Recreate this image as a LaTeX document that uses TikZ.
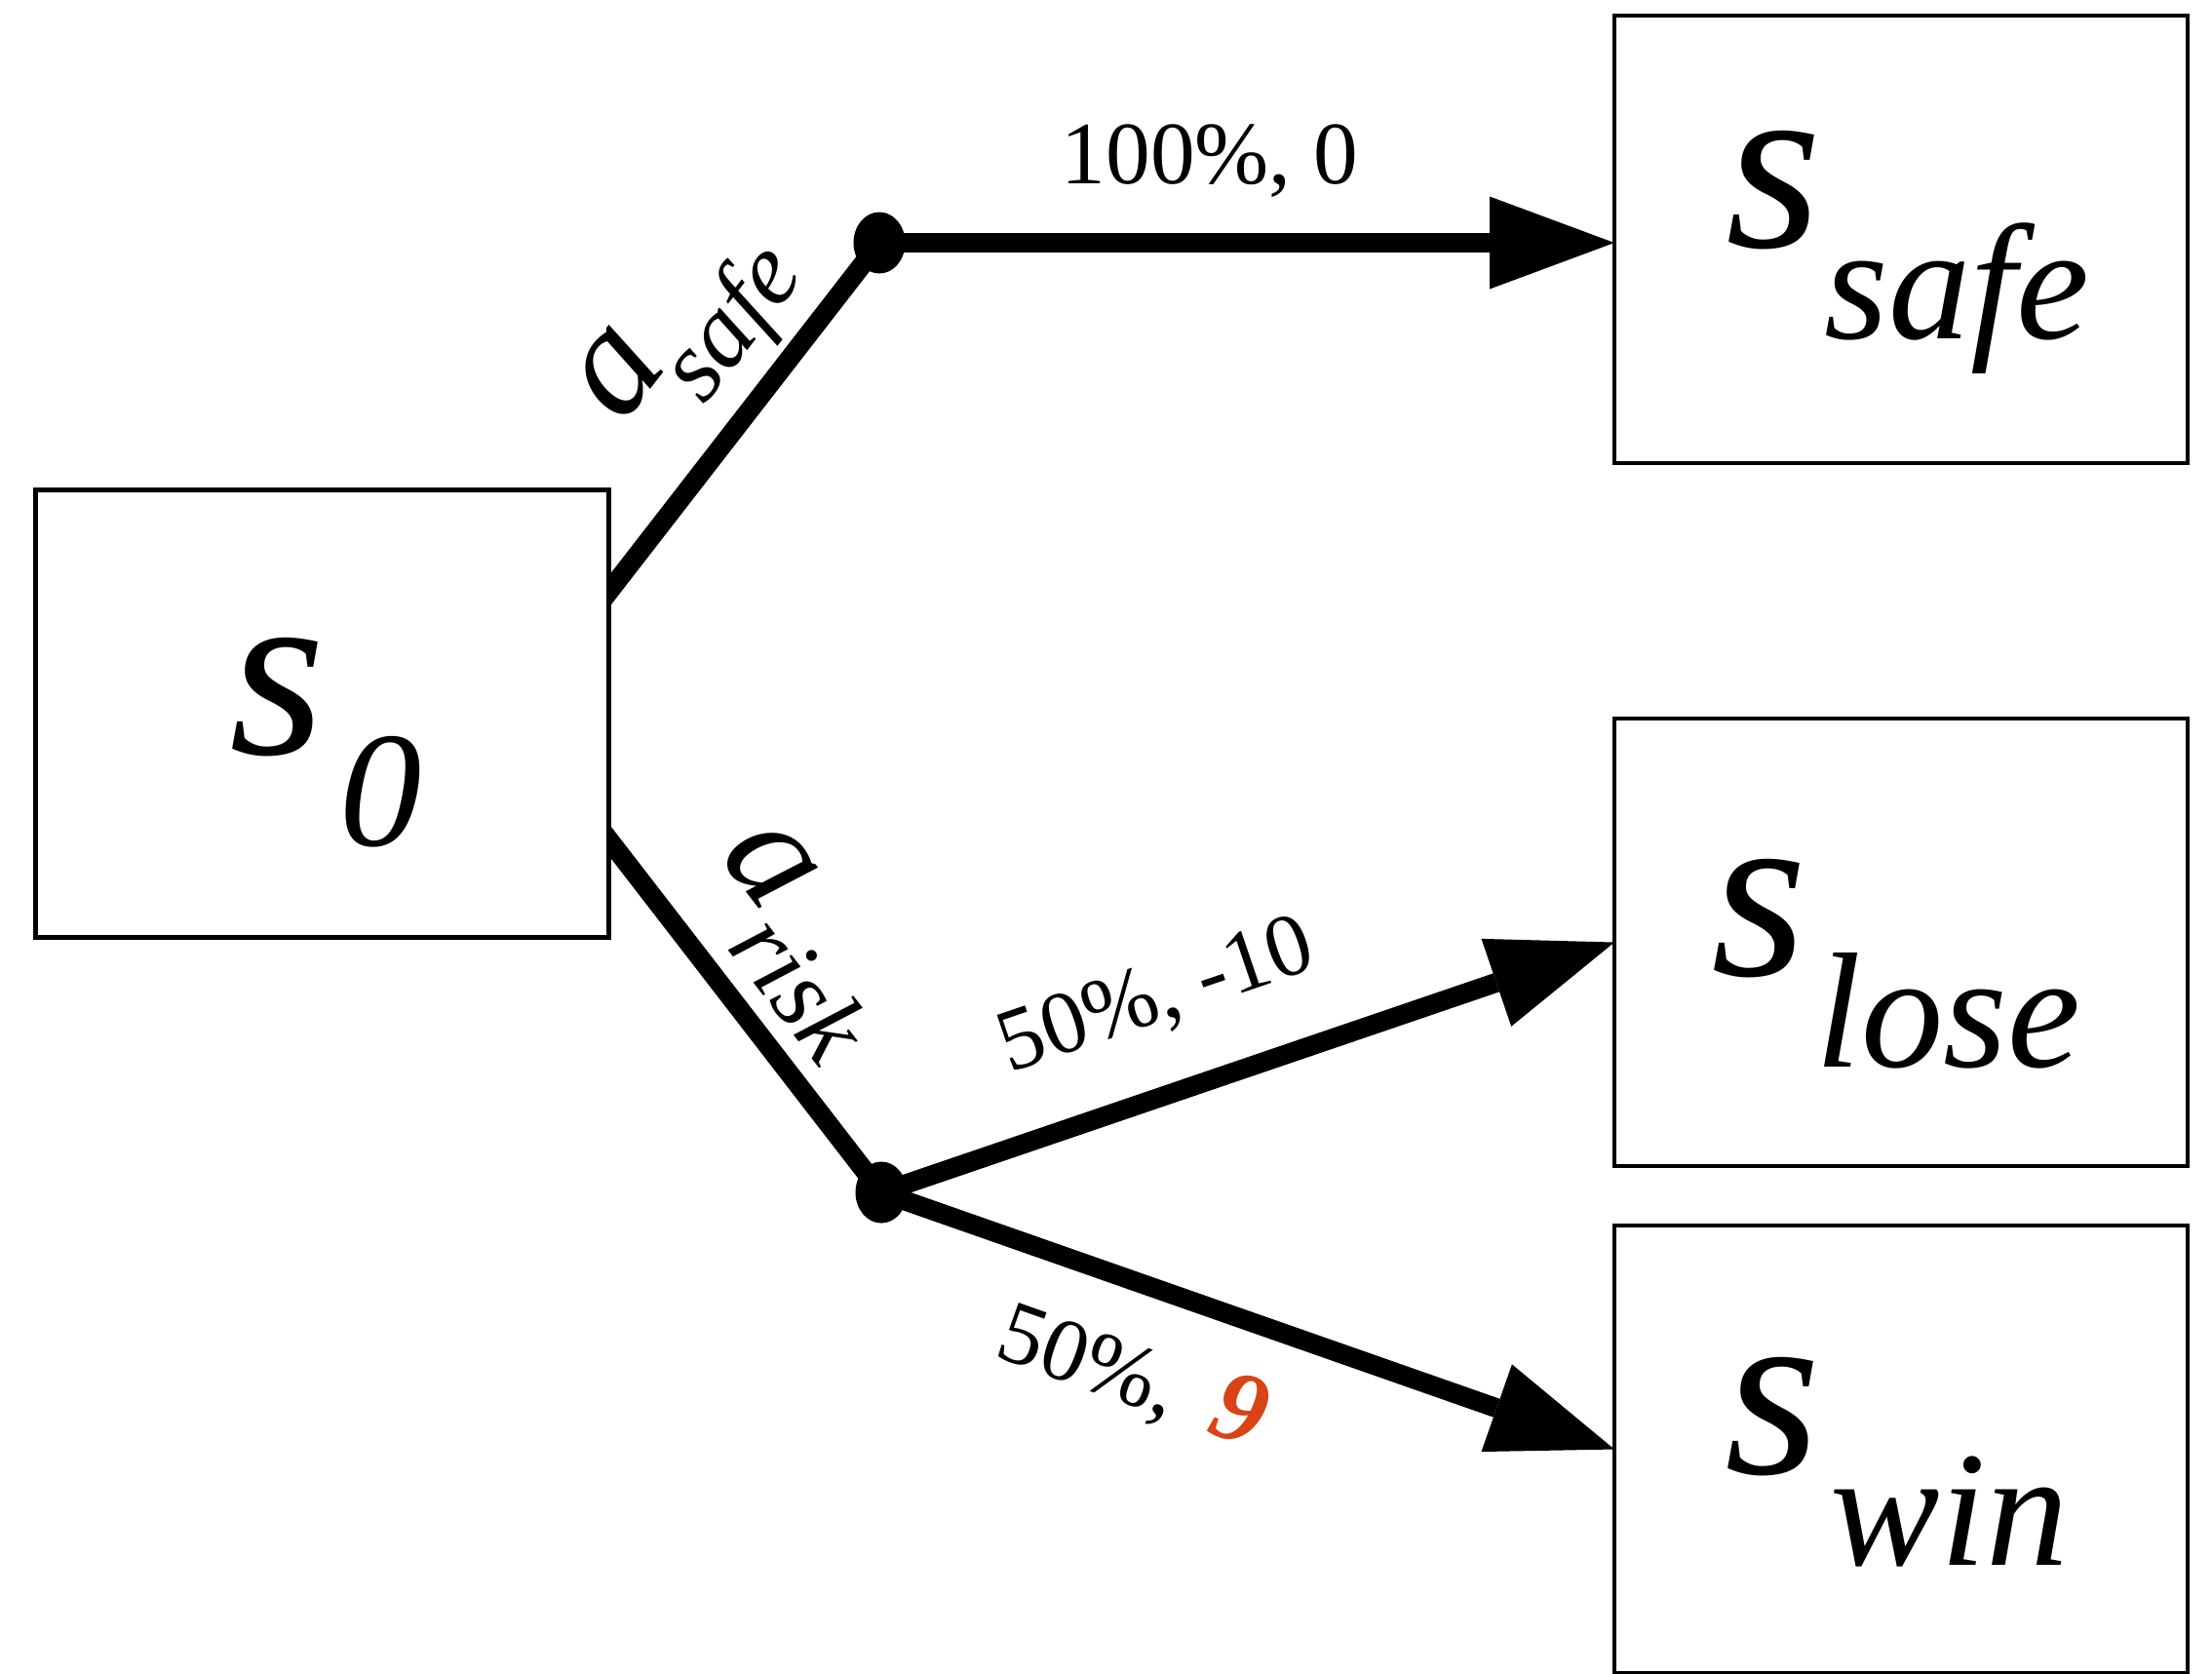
\documentclass[tikz,border=0pt]{standalone}
\usepackage{fontspec}
\setmainfont{Liberation Serif}
\usetikzlibrary{arrows.meta,shapes.geometric,backgrounds}
\definecolor{nine}{HTML}{D84415}
\begin{document}
\begin{tikzpicture}[
  x=1cm,y=1cm,
  statebox/.style={draw, line width=0.045cm, fill=white, minimum width=5.88cm, minimum height=4.59cm, inner sep=0pt, outer sep=0pt},
  dotnode/.style={ellipse, fill=black, minimum width=0.53cm, minimum height=0.63cm, inner sep=0pt},
  conn/.style={line width=0.2cm},
  arr/.style={conn, -{Triangle[length=1.28cm,width=0.95cm,line width=0pt]}},
  bigs/.style={inner sep=0pt, anchor=base west, font=\fontsize{72}{72}\selectfont\itshape},
  subs/.style={inner sep=0pt, anchor=base west, font=\fontsize{48}{48}\selectfont\itshape},
  pct/.style={inner sep=0pt, font=\fontsize{26}{26}\selectfont},
  act/.style={inner sep=0pt, anchor=base west, font=\fontsize{45}{45}\selectfont\itshape},
]
\newcommand{\actsubtxt}[3]{a\hspace{#1}\raisebox{#2}{\fontsize{30}{30}\selectfont #3}}
\useasboundingbox (0,0) rectangle (22.69,-17.16);
% state boxes
\node[statebox] (s0) at (3.305,-7.32) {};
\node[statebox] (ssafe) at (19.50,-2.455) {};
\node[statebox] (slose) at (19.50,-9.665) {};
\node[statebox] (swin) at (19.50,-14.865) {};
% chance dots
\node[dotnode] (d1) at (9.02,-2.49) {};
\node[dotnode] (d2) at (9.04,-12.23) {};
\coordinate (u1) at (6.05,-6.32);
\coordinate (u2) at (6.05,-8.36);
\begin{scope}[on background layer]
\draw[conn] (u1) -- (d1.center);
\draw[conn] (u2) -- (d2.center);
\end{scope}
\draw[arr] (d1.center) -- (d1.center -| ssafe.west);
\draw[arr] (d2.center) -- (slose.west);
\draw[arr] (d2.center) -- (swin.west);
% state labels
\node[bigs] (t0s) at (2.35,-7.73) {s};
\node[subs] (t0b) at (3.48,-8.67) {0};
\node[bigs] (t1s) at (17.70,-2.53) {s};
\node[subs] (t1b) at (18.71,-3.47) {safe};
\node[bigs] (t2s) at (17.55,-10.00) {s};
\node[subs] (t2b) at (18.62,-10.94) {lose};
\node[bigs] (t3s) at (17.69,-15.11) {s};
\node[subs] (t3b) at (18.77,-16.05) {win};
% transition labels
\node[pct, anchor=base] (p1) at (12.41,-1.88) {100\%, 0};
\node[pct, rotate=18.8] (p2) at (11.87,-10.24) {50\%, -10};
\node[pct, rotate=-19.5] (p3) at (11.62,-14.12) {50\%,\hspace{0.45em}\textcolor{nine}{\fontsize{30}{30}\selectfont\bfseries\itshape 9}};
% action labels
\node[act, rotate=52.2] (asafe) at (6.385,-4.369) {\actsubtxt{-0.124cm}{-0.535cm}{safe}};
\node[act, rotate=-52.3] (arisk) at (7.364,-8.769) {\actsubtxt{0cm}{-0.51cm}{risk}};
\end{tikzpicture}
\end{document}
